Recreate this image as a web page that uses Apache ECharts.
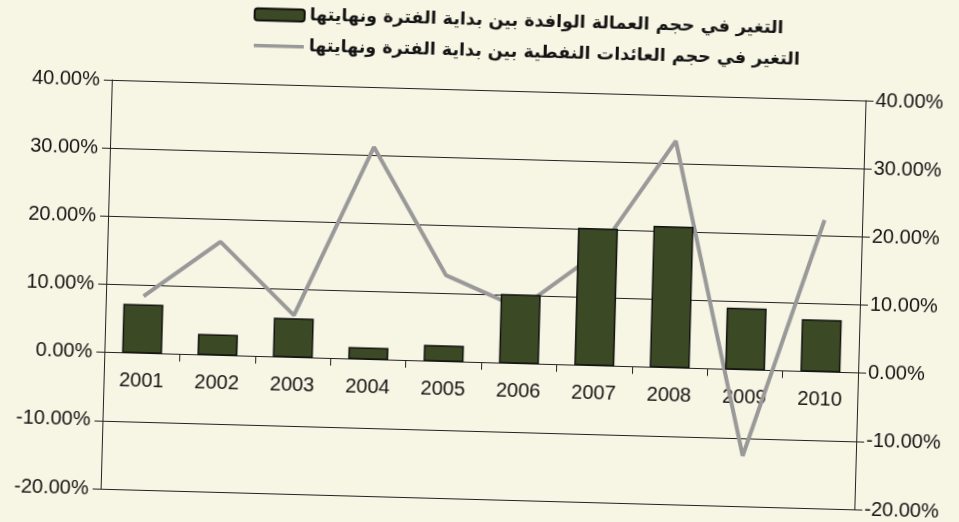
<!DOCTYPE html>
<html>
<head>
<meta charset="utf-8">
<script src="https://cdn.jsdelivr.net/npm/echarts@6/dist/echarts.min.js"></script>
<style>
  html, body { margin: 0; padding: 0; background: #f7f5e4; overflow: hidden; }
  /* the scanned original is tilted slightly clockwise */
  #chart { width: 959px; height: 522px; transform: rotate(1.57deg); transform-origin: 50% 50%; }
</style>
</head>
<body>
<div id="chart"></div>
<script>
const years = ['2001', '2002', '2003', '2004', '2005', '2006', '2007', '2008', '2009', '2010']
// التغير في حجم العمالة الوافدة (%)
const labourChange = [7.2, 3.1, 5.8, 1.8, 2.4, 10.2, 20.2, 20.8, 9.1, 7.7]
// التغير في حجم العائدات النفطية (%)
const oilChange = [8.4, 16.7, 6.2, 31.2, 12.7, 8.1, 16.6, 33.3, -12.6, 22.3]

const labourName = 'التغير في حجم العمالة الوافدة بين بداية الفترة ونهايتها'
const oilName = 'التغير في حجم العائدات النفطية بين بداية الفترة ونهايتها'

const pct = v => v.toFixed(2) + '%'
const labelFont = { fontFamily: 'Liberation Sans', fontSize: 20, color: '#141414' }
// thin grey stripe inside a 50x12 box for the line legend icon
const lineIcon = 'path://M0,0h0.1v0.1h-0.1z M0,4.5h50v3.5h-50z M49.9,11.9h0.1v0.1h-0.1z'

const gridTop = 90
const gridHeight = 409
// year labels sit just under the zero line, not under the grid bottom
const zeroFromBottom = gridHeight * 20 / 60

const chart = echarts.init(document.getElementById('chart'))
chart.setOption({
  backgroundColor: '#f7f5e4',
  animation: false,
  legend: {
    orient: 'vertical',
    left: 242,
    top: 4,
    itemWidth: 50,
    itemHeight: 12,
    itemGap: 8,
    textStyle: {
      fontFamily: 'DejaVu Sans',
      fontWeight: 'bold',
      fontSize: 17.5,
      lineHeight: 23,
      color: '#141414'
    },
    data: [
      { name: labourName },
      { name: oilName, icon: lineIcon, itemStyle: { color: '#999999', borderWidth: 0 } }
    ]
  },
  grid: {
    left: 107,
    right: 98,
    top: gridTop,
    height: gridHeight,
    outerBoundsMode: 'none'
  },
  xAxis: {
    type: 'category',
    data: years,
    axisLine: { onZero: true, onZeroAxisIndex: 0, lineStyle: { color: '#222', width: 1 } },
    axisTick: { show: true, length: 7, lineStyle: { color: '#222' } },
    axisLabel: { ...labelFont, margin: 18 - zeroFromBottom }
  },
  yAxis: [{
    type: 'value',
    min: -20,
    max: 40,
    interval: 10,
    axisLine: { show: true, lineStyle: { color: '#222' } },
    axisTick: { show: true, length: 8, lineStyle: { color: '#222' } },
    splitLine: { lineStyle: { color: '#222', width: 1 } },
    axisLabel: { ...labelFont, margin: 12, formatter: pct }
  }, {
    type: 'value',
    min: -20,
    max: 40,
    interval: 10,
    position: 'right',
    axisLine: { show: true, lineStyle: { color: '#222' } },
    axisTick: { show: true, length: 8, lineStyle: { color: '#222' } },
    splitLine: { show: false },
    axisLabel: { ...labelFont, margin: 10, formatter: pct }
  }],
  series: [{
    name: labourName,
    type: 'bar',
    data: labourChange,
    barWidth: 40,
    z: 3,
    itemStyle: { color: '#3b4a24', borderColor: '#111', borderWidth: 1.5 }
  }, {
    name: oilName,
    type: 'line',
    yAxisIndex: 1,
    data: oilChange,
    symbol: 'none',
    z: 2,
    lineStyle: { color: '#999999', width: 4 },
    itemStyle: { color: '#999999' }
  }]
})
</script>
</body>
</html>
